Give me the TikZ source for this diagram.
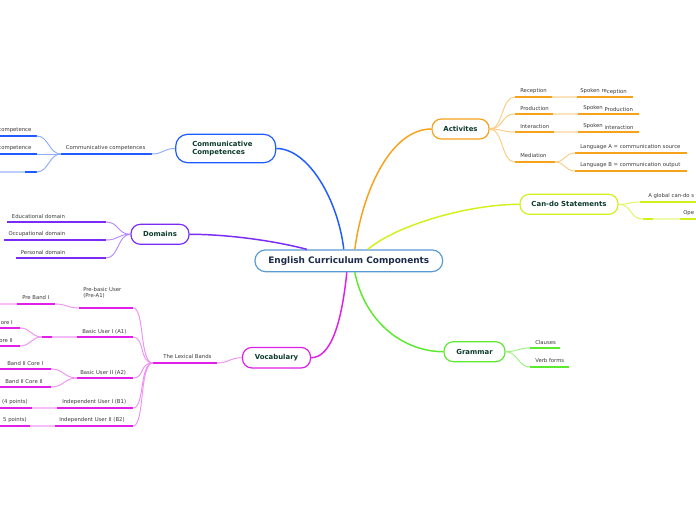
\documentclass[tikz,border=0pt]{standalone}
\usepackage{fontspec}
\setmainfont{DejaVu Sans}
\usetikzlibrary{calc}
\definecolor{cblue}{HTML}{1F5BFF}
\definecolor{cpurple}{HTML}{7A2BF5}
\definecolor{cmag}{HTML}{E020E8}
\definecolor{corange}{HTML}{F7A21B}
\definecolor{cyellow}{HTML}{D4F01A}
\definecolor{cgreen}{HTML}{5BEA2E}
\definecolor{ccentral}{HTML}{5B9BD5}
\definecolor{cdark}{HTML}{0D3B2E}
\definecolor{cnavy}{HTML}{1C2B4A}
\definecolor{ctxt}{HTML}{3A3A3A}
\newcommand\mmline[5]{\coordinate (#1l) at (#2,#4);\coordinate (#1r) at (#3,#4);\draw[#5] (#1l) -- (#1r);}
\begin{document}
\begin{tikzpicture}[x=0.75pt,y=-0.75pt,
  topic/.style={draw, fill=white, rounded corners=7pt, line width=0.9pt,
    font=\fontsize{5.2}{6.3}\selectfont\bfseries, text=cdark, inner sep=0pt},
  lbl/.style={font=\fontsize{4}{4.8}\selectfont, text=ctxt, inner sep=0pt, anchor=base west, align=left},
  lble/.style={lbl, anchor=base east},
  mainc/.style={line width=1.1pt},
  ul/.style={line width=1.5pt},
  pale/.style={line width=0.7pt}]
\useasboundingbox (0,0) rectangle (696,520);
\clip (0,0) rectangle (696,520);
\fill[white] (0,0) rectangle (696,520);

% ---------- main nodes ----------
\node[topic, draw=ccentral, text=cnavy, font=\fontsize{6.7}{8}\selectfont\bfseries,
  minimum width=140.8pt, minimum height=16.3pt, rounded corners=8pt] (center) at (348.8,260.8) {English Curriculum Components};
\node[topic, draw=cblue, minimum height=21.3pt, inner xsep=12.45pt, text width=50.1pt, align=left, rounded corners=9pt] (cc) at (225.7,148.5) {Communicative\\Competences};
\node[topic, draw=cpurple, minimum width=43.5pt, minimum height=15pt] (dom) at (160,234.3) {Domains};
\node[topic, draw=cmag, minimum width=51pt, minimum height=15.4pt] (voc) at (276.5,357.7) {Vocabulary};
\node[topic, draw=corange, minimum width=42.75pt, minimum height=15pt] (act) at (460.5,129) {Activites};
\node[topic, draw=cyellow, minimum width=73.5pt, minimum height=15pt] (cando) at (569,204.3) {Can-do Statements};
\node[topic, draw=cgreen, minimum width=45.75pt, minimum height=15pt] (gram) at (474.5,351.7) {Grammar};

% ---------- main connectors ----------
\draw[mainc, cblue] ($(center.north)+(-5,0)$) .. controls +(-6,-50) and +(32,0) .. (cc.east);
\draw[mainc, cpurple] ($(center.north)+(-42,0)$) .. controls +(-30,-8) and +(40,0) .. (dom.east);
\draw[mainc, corange] ($(center.north)+(6,0)$) .. controls +(8,-60) and +(-40,0) .. (act.west);
\draw[mainc, cyellow] ($(center.north)+(19,0)$) .. controls +(30,-25) and +(-50,0) .. (cando.west);
\draw[mainc, cmag] ($(center.south)+(-2,0)$) .. controls +(-5,50) and +(20,0) .. (voc.east);
\draw[mainc, cgreen] ($(center.south)+(6,0)$) .. controls +(10,50) and +(-40,0) .. (gram.west);

% ---------- Activites ----------
\mmline{rec}{515}{552}{97}{ul, corange}
\mmline{recp}{552}{577}{97}{ul, corange!30}
\mmline{srec}{577}{633}{97}{ul, corange}
\mmline{pro}{515}{553}{114}{ul, corange}
\mmline{prop}{553}{578}{114}{ul, corange!30}
\mmline{spro}{578}{639}{114}{ul, corange}
\mmline{int}{515}{554}{132}{ul, corange}
\mmline{intp}{554}{578}{132}{ul, corange!30}
\mmline{sint}{578}{639}{132}{ul, corange}
\mmline{med}{515}{555}{162}{ul, corange}
\mmline{la}{575}{687}{153}{ul, corange}
\mmline{lb}{575}{687}{171}{ul, corange}
\node[lbl] (trec) at (520,92.5) {Reception};
\node[lbl] (tsrec) at (580,92.3) {Spoken re\raisebox{-1.1pt}{ception}};
\node[lbl] (tpro) at (520,110.2) {Production};
\node[lbl] (tspro) at (583,110) {Spoken \raisebox{-1.1pt}{Production}};
\node[lbl] (tint) at (520,128.2) {Interaction};
\node[lbl] (tsint) at (583,128) {Spoken \raisebox{-1.1pt}{interaction}};
\node[lbl] (tmed) at (520,158) {Mediation};
\node[lbl] (tla) at (580,148.6) {Language A = communication source};
\node[lbl] (tlb) at (580,166.6) {Language B = communication output};
\foreach \t in {recl,prol,intl,medl}
  \draw[pale, corange!55] (act.east) .. controls +(14,0) and +(-14,0) .. (\t);
\draw[pale, corange!55] (medr) .. controls +(10,0) and +(-10,0) .. (lal);
\draw[pale, corange!55] (medr) .. controls +(10,0) and +(-10,0) .. (lbl);

% ---------- Can-do ----------
\mmline{cd1}{640}{700}{202}{ul, cyellow}
\mmline{cd2a}{643}{653}{219}{ul, cyellow}
\mmline{cd2b}{653}{680}{219}{ul, cyellow!35}
\mmline{cd2c}{680}{700}{219}{ul, cyellow}
\node[lbl] (tcd1) at (648,197.7) {A global can-do s};
\node[lbl] (tcd2) at (683,215) {Ope};
\draw[pale, cyellow!70] (cando.east) .. controls +(12,0) and +(-12,0) .. (cd1l);
\draw[pale, cyellow!70] (cando.east) .. controls +(14,0) and +(-14,0) .. (cd2al);

% ---------- Grammar ----------
\mmline{cl}{530}{560}{348}{ul, cgreen}
\mmline{vf}{530}{569}{367}{ul, cgreen}
\node[lbl] (tcl) at (535,344.3) {Clauses};
\node[lbl] (tvf) at (535,362.7) {Verb forms};
\draw[pale, cgreen!60] (gram.east) .. controls +(12,0) and +(-12,0) .. (cll);
\draw[pale, cgreen!60] (gram.east) .. controls +(12,0) and +(-12,0) .. (vfl);

% ---------- Communicative competences ----------
\mmline{ccp}{61}{151.7}{154}{ul, cblue}
\mmline{c1}{0}{36.7}{136}{ul, cblue}
\mmline{c2}{0}{36.7}{154}{ul, cblue}
\mmline{c3p}{0}{25}{172}{ul, cblue!30}
\mmline{c3}{25}{36.7}{172}{ul, cblue}
\node[lbl] (tccp) at (65.7,150) {Communicative competences};
\node[lble] (tc1) at (31.7,132) {competence};
\node[lble] (tc2) at (31.7,150) {competence};
\draw[pale, cblue!50] (ccpr) .. controls +(12,0) and +(-12,0) .. (cc.west);
\foreach \t in {c1r,c2r,c3r}
  \draw[pale, cblue!50] (ccpl) .. controls +(-12,0) and +(12,0) .. (\t);

% ---------- Domains ----------
\mmline{ed}{7.3}{106}{222}{ul, cpurple}
\mmline{oc}{4}{106}{240}{ul, cpurple}
\mmline{pe}{16}{106}{258}{ul, cpurple}
\foreach \y in {222,240,258} \draw[line width=1.8pt, cpurple] (95,\y) -- (106,\y);
\node[lbl] (ted) at (11.7,218.3) {Educational domain};
\node[lbl] (toc) at (8.3,236) {Occupational domain};
\node[lbl] (tpe) at (20.7,254.3) {Personal domain};
\foreach \t in {edr,ocr,per}
  \draw[pale, cpurple!55] (\t) .. controls +(13,0) and +(-13,0) .. (dom.west);

% ---------- Vocabulary ----------
\mmline{lex}{153}{217}{363}{ul, cmag}
\node[lbl] (tlex) at (163,358.7) {The Lexical Bands};
\draw[pale, cmag!50] (lexr) .. controls +(12,0) and +(-12,0) .. (voc.west);
\mmline{pa}{79}{133}{308}{ul, cmag}
\mmline{a1}{77}{133}{337}{ul, cmag}
\mmline{a2}{77}{133}{378}{ul, cmag}
\mmline{b1}{57}{133}{408}{ul, cmag}
\mmline{b2}{55}{133}{426}{ul, cmag}
\foreach \t in {par,a1r,a2r,b1r,b2r}
  \draw[pale, cmag!50] (\t) .. controls +(12,0) and +(-14,0) .. (lexl);
\node[lbl, font=\fontsize{4}{4.5}\selectfont] (tpa) at (83,297.2) {Pre-basic User\\(Pre-A1)};
\node[lbl] (ta1) at (82,333.3) {Basic User I (A1)};
\node[lbl] (ta2) at (80,374.3) {Basic User II (A2)};
\node[lbl] (tb1) at (62,403.5) {Independent User I (B1)};
\node[lbl] (tb2) at (59,421.5) {Independent User II (B2)};
% Pre-A1 child
\mmline{pb}{17}{55}{304}{ul, cmag}
\mmline{pbp}{0}{17}{304}{ul, cmag!30}
\node[lbl] (tpb) at (22,300) {Pre Band I};
\draw[pale, cmag!50] (pbr) .. controls +(12,0) and +(-12,0) .. (pal);
% A1 children
\mmline{k1}{0}{20}{328}{ul, cmag}
\mmline{k2}{0}{20}{346}{ul, cmag}
\mmline{kh}{42}{52}{337}{ul, cmag}
\mmline{khp}{52}{77}{337}{ul, cmag!30}
\node[lble] (tk1) at (13,324.3) {ore I};
\node[lble] (tk2) at (13,342) {ore II};
\draw[pale, cmag!50] (k1r) .. controls +(11,0) and +(-11,0) .. (khl);
\draw[pale, cmag!50] (k2r) .. controls +(11,0) and +(-11,0) .. (khl);
% A2 children
\mmline{m1}{0}{51}{369}{ul, cmag}
\mmline{m2}{0}{51}{387}{ul, cmag}
\node[lbl] (tm1) at (7,365) {Band II Core I};
\node[lbl] (tm2) at (5,383) {Band II Core II};
\draw[pale, cmag!50] (m1r) .. controls +(13,0) and +(-13,0) .. (a2l);
\draw[pale, cmag!50] (m2r) .. controls +(13,0) and +(-13,0) .. (a2l);
% B1, B2 children
\mmline{n1}{0}{32}{408}{ul, cmag}
\mmline{n1p}{32}{57}{408}{ul, cmag!30}
\mmline{n2}{0}{30}{426}{ul, cmag}
\mmline{n2p}{30}{55}{426}{ul, cmag!30}
\node[lble] (tn1) at (28,403.5) {(4 points)};
\node[lble] (tn2) at (27,421.5) {5 points)};
\end{tikzpicture}
\end{document}
